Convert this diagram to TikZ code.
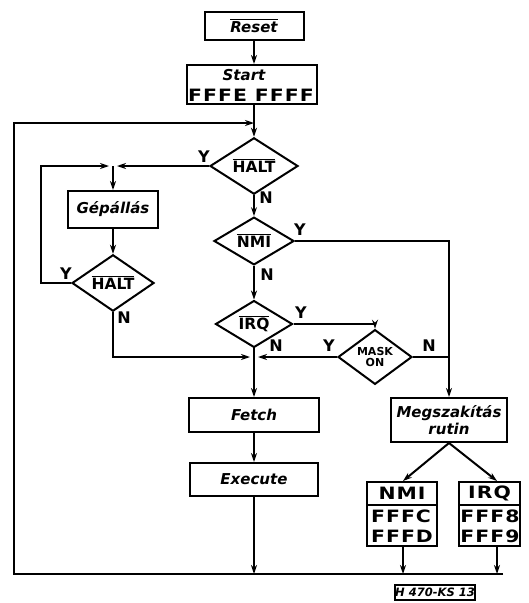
\documentclass[tikz,border=0pt]{standalone}
\usepackage{fontspec}
\setmainfont{DejaVu Sans}
\newfontfamily\widebf[FakeStretch=1.2,LetterSpace=6]{DejaVu Sans Bold}
\usetikzlibrary{arrows.meta,shapes.geometric}
\newcommand\ovl[1]{\setbox0\hbox{#1}\rlap{\rule[\dimexpr\ht0+1.2pt\relax]{\wd0}{1.1pt}}\box0}
\begin{document}
\begin{tikzpicture}[x=1pt,y=-1pt,line width=2pt,
  >={Stealth[length=9pt,width=6pt]},
  blk/.style 2 args={draw,rectangle,minimum width=#1,minimum height=#2,inner sep=0pt,align=center},
  dia/.style 2 args={draw,diamond,minimum width=#1,minimum height=#2,inner sep=0pt,align=center},
  lbl/.style={font=\bfseries\itshape\fontsize{15}{16}\selectfont},
  yn/.style={font=\bfseries\fontsize{16}{16}\selectfont,inner sep=0pt},
  dtx/.style={font=\bfseries\fontsize{15.5}{15}\selectfont},
  hx/.style={font=\widebf\fontsize{17}{20}\selectfont,inner sep=0pt,align=left}]
\useasboundingbox (0,0) rectangle (529,603);
% boxes
\node[blk={99}{28},lbl] (reset) at (254,26) {\ovl{Reset}};
\node[blk={130}{39}] (start) at (252,84.5) {};
\node[lbl] (starttxt) at (244,75.5) {Start};
\node[hx] (startnum) at (251,95) {FFFE\hspace{8pt}FFFF};
\node[blk={90}{37},lbl] (gep) at (113,209.5) {Gépállás};
\node[blk={130}{34},lbl] (fetch) at (254,415) {Fetch};
\node[blk={128}{33},lbl] (exec) at (254,479.5) {Execute};
\node[blk={116}{44},lbl,font=\bfseries\itshape\fontsize{15}{17}\selectfont] (megs) at (449,420) {Megszakítás\\rutin};
\node[blk={70}{64}] (nmibox) at (402,514) {};
\node[blk={61}{64}] (irqbox) at (489.5,514) {};
\draw (nmibox.west |- 0,505) -- (nmibox.east |- 0,505);
\draw (irqbox.west |- 0,505) -- (irqbox.east |- 0,505);
\node[hx] (nmit) at (402,493.5) {NMI};
\node[hx] (irqt) at (489.5,493.5) {IRQ};
\node[hx] (nmin) at (402,526) {FFFC\\FFFD};
\node[hx] (irqn) at (490,526) {FFF8\\FFF9};
% diamonds
\node[dia={88}{48},dtx] (halt1) at (254,166) {\ovl{HALT}};
\node[dia={82}{46},dtx] (halt2) at (113,283) {\ovl{HALT}};
\node[dia={80}{46},dtx] (nmi) at (254,241) {\ovl{NMI}};
\node[dia={77}{43},dtx] (irq) at (254,324) {\ovl{IRQ}};
\node[dia={74}{44},font=\bfseries\fontsize{11}{10.5}\selectfont] (mask) at (375,357) {MASK\\ON};
% coordinates
\coordinate (loopTop) at (254,123);
\coordinate (cTL) at (14,123);
\coordinate (cBL) at (14,574);
\coordinate (cBR) at (503,574);
\coordinate (j1) at (113,166);
\coordinate (c41) at (41,166);
\coordinate (j2) at (254,357);
% connectors
\draw[->] (reset) -- (reset.south |- start.north);
\draw[->] (start.south -| reset.south) -- (halt1);
\draw[->] (cBR) -- (cBL) -- (cTL) -- (loopTop);
\draw[->,shorten >=4pt] (halt1.west) -- (j1);
\draw[->,shorten >=4pt] (halt2.west) -- (c41 |- halt2.west) -- (c41) -- (j1);
\draw[->] (j1) -- (gep);
\draw[->] (gep) -- (halt2);
\draw[->,shorten >=4pt] (halt2.south) -- (halt2.south |- j2) -- (j2);
\draw[->,shorten >=4pt] (mask.west) -- (j2);
\draw[->] (halt1) -- (nmi);
\draw[->] (nmi) -- (irq);
\draw[->] (irq) -- (fetch);
\draw[->] (irq.east) -| (mask.north);
\draw[->] (nmi.east) -| (megs.north);
\draw (mask.east) -- (mask.east -| megs.north);
\draw[->] (fetch) -- (exec);
\draw[->] (exec) -- (exec.south |- cBL);
\draw[->] (megs.south) -- ([xshift=1pt]nmibox.north);
\draw[->] (megs.south) -- ([xshift=7.5pt]irqbox.north);
\draw[->] ([xshift=1pt]nmibox.south) -- ([xshift=1pt]nmibox.south |- cBL);
\draw[->] ([xshift=7.5pt]irqbox.south) -- ([xshift=7.5pt]irqbox.south |- cBL);
% Y/N labels
\node[yn] (y1) at (204,157) {Y};
\node[yn] (n1) at (266,198) {N};
\node[yn] (y2) at (300,230) {Y};
\node[yn] (n2) at (267,275) {N};
\node[yn] (y3) at (66,274) {Y};
\node[yn] (n3) at (124,318) {N};
\node[yn] (y4) at (301,313) {Y};
\node[yn] (n4) at (276,346) {N};
\node[yn] (y5) at (329,346) {Y};
\node[yn] (n5) at (429,346) {N};
% figure tag
\node[draw,line width=1.4pt,minimum width=80,minimum height=15,inner sep=0pt,font=\bfseries\itshape\fontsize{11.5}{11}\selectfont] (tag) at (435,592.5) {H 470-KS 13};
\end{tikzpicture}
\end{document}
